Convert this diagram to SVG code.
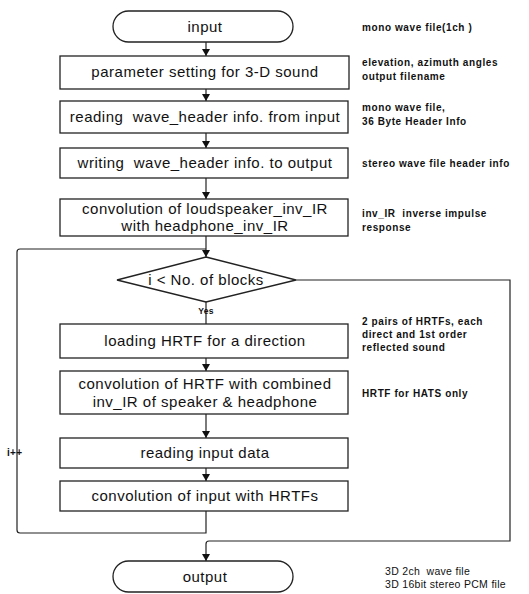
<svg xmlns="http://www.w3.org/2000/svg" width="529" height="594" viewBox="0 0 529 594">
<style>
.box{fill:#fff;stroke:#222;stroke-width:1.3}
.t{font-family:"Liberation Sans",Arial,sans-serif;font-size:15px;letter-spacing:0.5px;fill:#111;text-anchor:middle}
.a{font-family:"Liberation Sans",Arial,sans-serif;font-size:10px;letter-spacing:0.6px;fill:#111;font-weight:bold}
.b{font-family:"Liberation Sans",Arial,sans-serif;font-size:10.5px;letter-spacing:0.3px;fill:#111}
.c{fill:none;stroke:#222;stroke-width:1.2}
</style>
<defs>
<marker id="ah" markerWidth="8" markerHeight="8" refX="7" refY="4" orient="auto" markerUnits="userSpaceOnUse">
<path d="M0,0 L7,4 L0,8 Z" fill="#111"/>
</marker>
</defs>
<rect width="529" height="594" fill="#fff"/>
<g id="connectors">
<path class="c" d="M206,42 V56" marker-end="url(#ah)"/>
<path class="c" d="M206,89 V101" marker-end="url(#ah)"/>
<path class="c" d="M206,133 V148" marker-end="url(#ah)"/>
<path class="c" d="M206,178 V199" marker-end="url(#ah)"/>
<path class="c" d="M206,236 V257" marker-end="url(#ah)"/>
<path class="c" d="M206,302 V324"/>
<path class="c" d="M206,358 V371" marker-end="url(#ah)"/>
<path class="c" d="M206,414 V438" marker-end="url(#ah)"/>
<path class="c" d="M206,468 V481" marker-end="url(#ah)"/>
<path class="c" d="M206,511 V533 H20 Q17,533 17,530 V252 Q17,249 20,249 H206"/>
<path class="c" d="M296,280 H510 V541 H209 Q206,541 206,544 V561" marker-end="url(#ah)"/>
</g>
<g id="input">
<rect class="box" x="113" y="11" width="180" height="31" rx="15.5"/>
<text class="t" x="205" y="32">input</text>
</g>
<g id="param">
<rect class="box" x="60" y="56" width="289" height="33"/>
<text class="t" x="205" y="77">parameter setting for 3-D sound</text>
</g>
<g id="readhdr">
<rect class="box" x="60" y="101" width="288" height="32"/>
<text class="t" x="205" y="122" xml:space="preserve">reading  wave_header info. from input</text>
</g>
<g id="writehdr">
<rect class="box" x="60" y="148" width="288" height="30"/>
<text class="t" x="205" y="168" xml:space="preserve">writing  wave_header info. to output</text>
</g>
<g id="convinv">
<rect class="box" x="60" y="199" width="288" height="37"/>
<text class="t" x="205" y="214">convolution of loudspeaker_inv_IR</text>
<text class="t" x="205" y="231">with headphone_inv_IR</text>
</g>
<g id="decision">
<polygon class="box" points="206,257 296,280 206,302 117,280"/>
<text class="t" x="206" y="285">i &lt; No. of blocks</text>
<text class="a" x="206" y="314" text-anchor="middle" style="font-size:8.5px;letter-spacing:0.3px">Yes</text>
</g>
<g id="loadhrtf">
<rect class="box" x="60" y="324" width="288" height="34"/>
<text class="t" x="205" y="346">loading HRTF for a direction</text>
</g>
<g id="convhrtf">
<rect class="box" x="60" y="371" width="288" height="43"/>
<text class="t" x="205" y="389">convolution of HRTF with combined</text>
<text class="t" x="205" y="407">inv_IR of speaker &amp; headphone</text>
</g>
<g id="readinput">
<rect class="box" x="60" y="438" width="288" height="30"/>
<text class="t" x="205" y="458">reading input data</text>
</g>
<g id="convinput">
<rect class="box" x="60" y="481" width="288" height="30"/>
<text class="t" x="205" y="501">convolution of input with HRTFs</text>
</g>
<g id="output">
<rect class="box" x="113" y="561" width="180" height="31" rx="15.5"/>
<text class="t" x="205" y="582">output</text>
</g>
<g id="annotations">
<text class="a" x="362" y="31">mono wave file(1ch )</text>
<text class="a" x="362" y="66">elevation, azimuth angles</text>
<text class="a" x="362" y="80">output filename</text>
<text class="a" x="362" y="111">mono wave file,</text>
<text class="a" x="362" y="125">36 Byte Header Info</text>
<text class="a" x="362" y="167">stereo wave file header info</text>
<text class="a" x="362" y="217" xml:space="preserve">inv_IR  inverse impulse</text>
<text class="a" x="362" y="231">response</text>
<text class="a" x="362" y="325">2 pairs of HRTFs, each</text>
<text class="a" x="362" y="338">direct and 1st order</text>
<text class="a" x="362" y="351">reflected sound</text>
<text class="a" x="362" y="397">HRTF for HATS only</text>
<text class="a" x="7" y="456" style="letter-spacing:0.3px">i++</text>
<text class="b" x="385" y="575" xml:space="preserve">3D 2ch  wave file</text>
<text class="b" x="385" y="588">3D 16bit stereo PCM file</text>
</g>
</svg>
